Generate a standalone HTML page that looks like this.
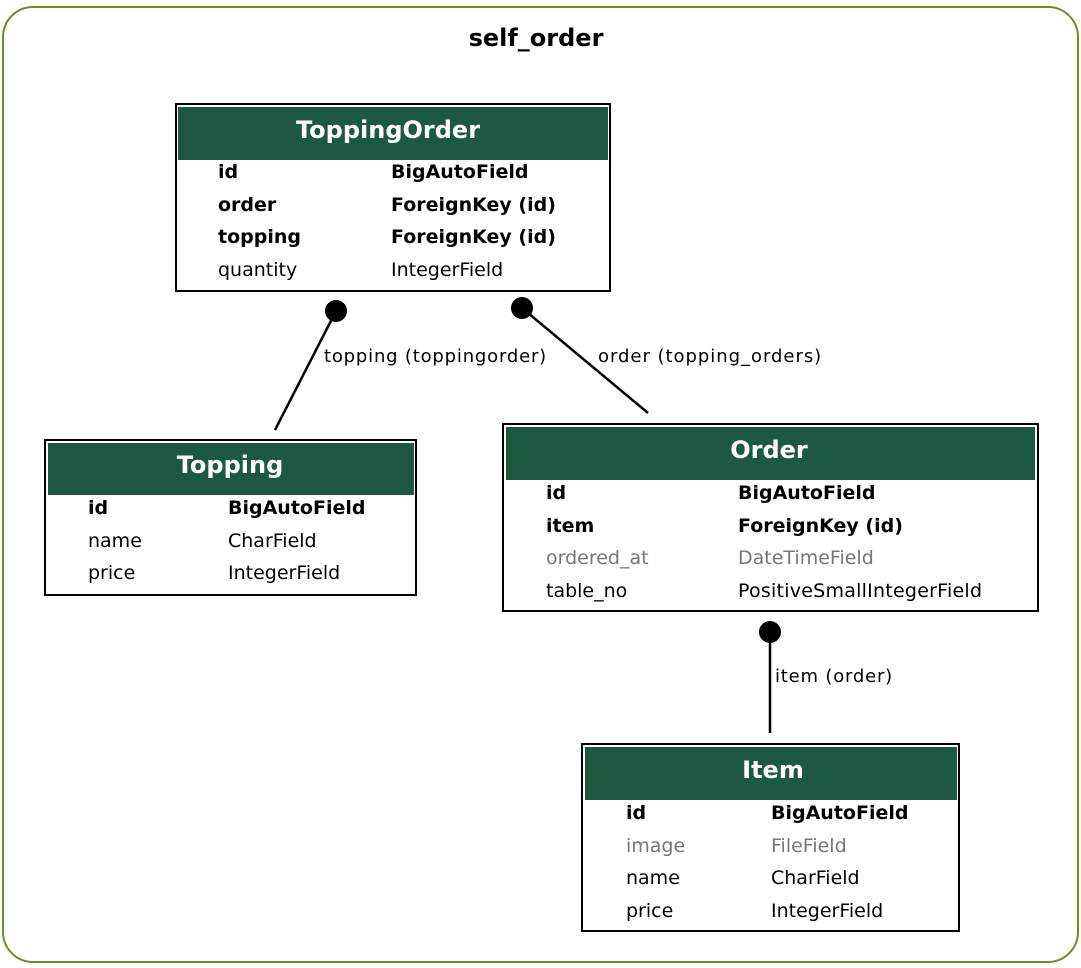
<!DOCTYPE html>
<html><head><meta charset="utf-8"><style>
body{margin:0;background:#fff}
svg text{font-family:"DejaVu Sans","Liberation Sans",sans-serif}
.h{fill:#fff;font-weight:bold;font-size:24px}
.b{font-weight:bold;font-size:19px;fill:#000}
.n{font-size:19px;fill:#000}
.g{font-size:19px;fill:#777}
.l{font-size:18px;fill:#000;letter-spacing:0.8px}
</style></head><body>
<svg width="1081" height="963" viewBox="0 0 1081 963" xmlns="http://www.w3.org/2000/svg">
<rect x="3" y="7" width="1075" height="955" rx="30" fill="#fff" stroke="#6b8e23" stroke-width="2"/>
<text x="536" y="46" text-anchor="middle" style="font-weight:bold;font-size:24px">self_order</text>

<!-- ToppingOrder -->
<rect x="176" y="104" width="434" height="187" fill="#fff" stroke="#000" stroke-width="2"/>
<rect x="178" y="107" width="430" height="53" fill="#1d5940"/>
<text x="388" y="138" text-anchor="middle" class="h">ToppingOrder</text>
<text x="218" y="178" class="b">id</text><text x="391" y="178" class="b">BigAutoField</text>
<text x="218" y="211" class="b">order</text><text x="391" y="211" class="b">ForeignKey (id)</text>
<text x="218" y="243" class="b">topping</text><text x="391" y="243" class="b">ForeignKey (id)</text>
<text x="218" y="276" class="n">quantity</text><text x="391" y="276" class="n">IntegerField</text>

<!-- Topping -->
<rect x="45" y="440" width="371" height="155" fill="#fff" stroke="#000" stroke-width="2"/>
<rect x="48" y="443" width="366" height="52" fill="#1d5940"/>
<text x="230" y="473" text-anchor="middle" class="h">Topping</text>
<text x="88" y="514" class="b">id</text><text x="228" y="514" class="b">BigAutoField</text>
<text x="88" y="547" class="n">name</text><text x="228" y="547" class="n">CharField</text>
<text x="88" y="579" class="n">price</text><text x="228" y="579" class="n">IntegerField</text>

<!-- Order -->
<rect x="503" y="424" width="535" height="187" fill="#fff" stroke="#000" stroke-width="2"/>
<rect x="506" y="427" width="529" height="53" fill="#1d5940"/>
<text x="769" y="458" text-anchor="middle" class="h">Order</text>
<text x="546" y="499" class="b">id</text><text x="738" y="499" class="b">BigAutoField</text>
<text x="546" y="532" class="b">item</text><text x="738" y="532" class="b">ForeignKey (id)</text>
<text x="546" y="564" class="g">ordered_at</text><text x="738" y="564" class="g">DateTimeField</text>
<text x="546" y="597" class="n">table_no</text><text x="738" y="597" class="n" textLength="244">PositiveSmallIntegerField</text>

<!-- Item -->
<rect x="582" y="744" width="377" height="187" fill="#fff" stroke="#000" stroke-width="2"/>
<rect x="585" y="747" width="372" height="53" fill="#1d5940"/>
<text x="773" y="778" text-anchor="middle" class="h">Item</text>
<text x="626" y="819" class="b">id</text><text x="771" y="819" class="b">BigAutoField</text>
<text x="626" y="852" class="g">image</text><text x="771" y="852" class="g">FileField</text>
<text x="626" y="884" class="n">name</text><text x="771" y="884" class="n">CharField</text>
<text x="626" y="917" class="n">price</text><text x="771" y="917" class="n">IntegerField</text>

<!-- edges -->
<line x1="336" y1="311" x2="275" y2="430" stroke="#000" stroke-width="2.5"/>
<circle cx="336" cy="311" r="11" fill="#000"/>
<text x="324" y="362" class="l" textLength="223">topping (toppingorder)</text>
<line x1="522" y1="308" x2="648" y2="413" stroke="#000" stroke-width="2.5"/>
<circle cx="522" cy="308" r="11" fill="#000"/>
<text x="598" y="362" class="l" textLength="224">order (topping_orders)</text>
<line x1="770" y1="632" x2="770" y2="733" stroke="#000" stroke-width="2.5"/>
<circle cx="770" cy="632" r="11" fill="#000"/>
<text x="775" y="682" class="l" textLength="118">item (order)</text>
</svg>
</body></html>
